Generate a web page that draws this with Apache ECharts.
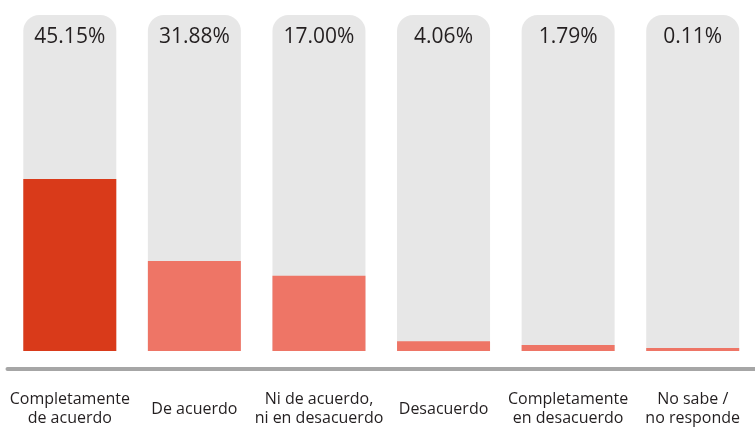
<!DOCTYPE html>
<html>
<head>
<meta charset="utf-8">
<script src="https://cdn.jsdelivr.net/npm/echarts@6/dist/echarts.min.js"></script>
<style>html,body{margin:0;padding:0;background:#fff;overflow:hidden}#c{width:755px;height:428px;position:absolute;left:0;top:0}</style>
</head>
<body>
<div id="c"></div>
<script>
// Categories (axis labels)
var categories = [
  'Completamente\nde acuerdo',
  'De acuerdo',
  'Ni de acuerdo,\nni en desacuerdo',
  'Desacuerdo',
  'Completamente\nen desacuerdo',
  'No sabe /\nno responde'
];
// Printed percentages
var shareLabels = ['45.15%', '31.88%', '17.00%', '4.06%', '1.79%', '0.11%'];
// Bar fill level as drawn in the picture (percent of the grey track)
var barLevels = [51.2, 26.8, 22.4, 2.9, 1.8, 0.9];
// Track full scale
var trackMax = 100;
var trackValues = [trackMax, trackMax, trackMax, trackMax, trackMax, trackMax];

var chart = echarts.init(document.getElementById('c'), null, {renderer: 'canvas', width: 755, height: 428});
var font = '"Open Sans", "Noto Sans", sans-serif';
chart.setOption({
  animation: false,
  backgroundColor: '#ffffff',
  grid: {left: 7.5, width: 756, top: 15, height: 340, containLabel: false},
  xAxis: {
    type: 'category',
    data: categories,
    offset: 18,
    axisLine: {show: true, onZero: false, lineStyle: {color: '#a6a6a6', width: 4}},
    axisTick: {show: false},
    axisLabel: {
      interval: 0,
      margin: 40,
      verticalAlign: 'middle',
      fontFamily: font,
      fontSize: 16,
      lineHeight: 19,
      color: '#231f20'
    }
  },
  yAxis: {type: 'value', min: 0, max: trackMax, show: false, splitLine: {show: false}},
  series: [
    {
      type: 'bar',
      data: barLevels,
      barWidth: 93,
      showBackground: true,
      backgroundStyle: {color: '#e7e7e7', borderRadius: [16, 16, 0, 0]},
      itemStyle: {
        color: function (p) { return p.dataIndex === 0 ? '#d93a1a' : '#ee7566'; }
      },
      z: 2
    },
    {
      type: 'bar',
      data: trackValues,
      barWidth: 93,
      barGap: '-100%',
      itemStyle: {color: 'rgba(0,0,0,0)'},
      label: {
        show: true,
        position: 'insideTop',
        distance: 12,
        formatter: function (p) { return shareLabels[p.dataIndex]; },
        fontFamily: font,
        fontSize: 21,
        color: '#231f20'
      },
      silent: true,
      z: 3
    }
  ]
});
</script>
</body>
</html>
